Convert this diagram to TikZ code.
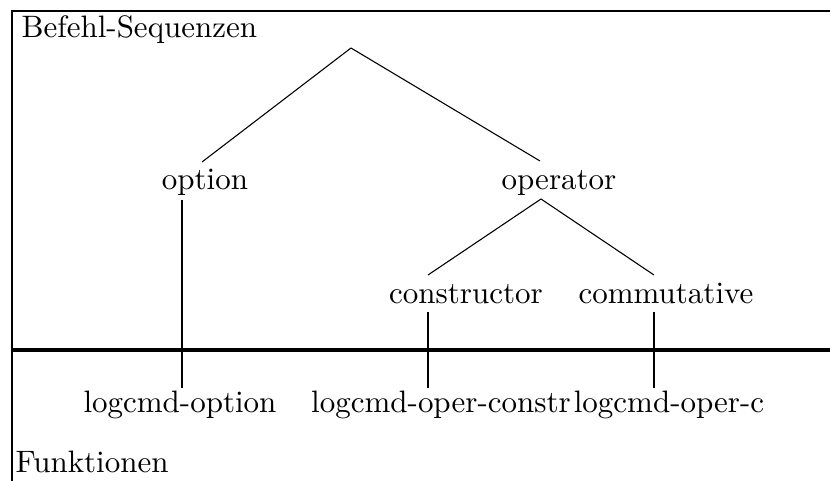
\documentclass[tikz,border=0pt]{standalone}
\begin{document}
\begin{tikzpicture}[
  x=0.3226pt, y=-0.3226pt,
  lbl/.style={inner sep=0pt, anchor=base, font=\fontsize{10}{12}\selectfont},
  frame/.style={line width=0.65pt},
  axis/.style={line width=1.3pt},
  branch/.style={line width=0.35pt},
  link/.style={line width=0.65pt},
  boldlink/.style={line width=0.95pt}
]
\useasboundingbox (0,0) rectangle (830,481);

% outer frame (top and left edges)
\coordinate (tl) at (12,11);
\coordinate (tr) at (830,11);
\coordinate (bl) at (12,481);
\draw[frame] (tr) -- (tl) -- (bl);

% dividing line between commands and functions
\coordinate (axL) at (12,350);
\coordinate (axR) at (830,350);
\draw[axis] (axL) -- (axR);

% region titles
\node[lbl, anchor=base west] (seq) at (21,38) {Befehl-Sequenzen};
\node[lbl, anchor=base west] (fun) at (15,473) {Funktionen};

% command tree
\coordinate (root) at (351,48);
\coordinate (optTop) at (202,162);
\coordinate (opTop) at (540,161);
\node[lbl] (option) at (205,190) {option};
\node[lbl] (operator) at (559,190) {operator};
\draw[branch] (root) -- (optTop);
\draw[branch] (root) -- (opTop);

\coordinate (opApex) at (541,199);
\coordinate (conTop) at (428,275);
\coordinate (comTop) at (654,275);
\node[lbl] (constructor) at (466,304) {constructor};
\node[lbl] (commutative) at (666,304) {commutative};
\draw[branch] (opApex) -- (conTop);
\draw[branch] (opApex) -- (comTop);

% function names
\node[lbl] (fopt) at (180,413) {logcmd-option};
\node[lbl] (fcon) at (441,413) {logcmd-oper-constr};
\node[lbl] (fcom) at (669,413) {logcmd-oper-c};

% links from commands to functions
\coordinate (optA) at (182,200);
\coordinate (optB) at (182,388);
\coordinate (conA) at (428,312);
\coordinate (conB) at (428,388);
\coordinate (comA) at (654,312);
\coordinate (comB) at (654,388);
\draw[link] (optA) -- (optB);
\draw[link] (conA) -- (conB);
\draw[boldlink] (comA) -- (comB);
\end{tikzpicture}
\end{document}
